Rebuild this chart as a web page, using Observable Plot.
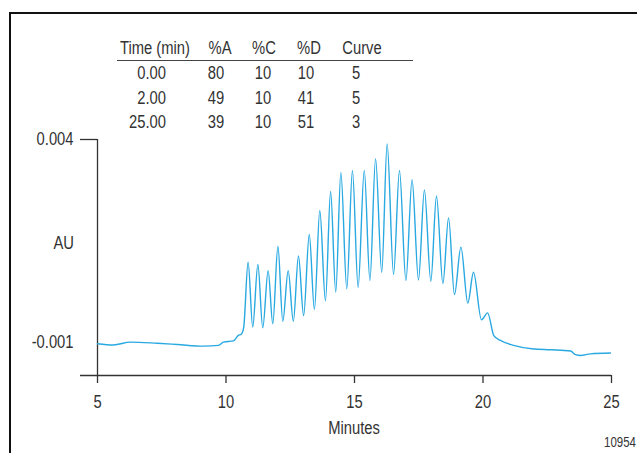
<!DOCTYPE html>
<html><head><meta charset="utf-8">
<script src="https://cdn.jsdelivr.net/npm/d3@7"></script>
<script src="https://cdn.jsdelivr.net/npm/@observablehq/plot@0.6"></script>
<style>
body{margin:0;background:#fff;}
#wrap{position:relative;width:637px;height:453px;overflow:hidden;font-family:"Liberation Sans",Arial,sans-serif;color:#333;}
#frame{position:absolute;left:9px;top:12px;width:660px;height:480px;border-left:2px solid #111;border-top:2px solid #111;z-index:2;}
.t{position:absolute;font-size:18px;line-height:20px;white-space:nowrap;}
#chart{position:absolute;left:0;top:0;}
#rule{position:absolute;left:117px;top:60px;width:296px;height:0;border-top:1.5px solid #444;}
</style></head><body><div id="wrap"><div id="frame"></div><div id="chart"></div><div id="rule"></div></div>
<script>
// chromatogram (minutes, AU)
const time = [5.00, 5.62, 6.28, 7.33, 8.11, 9.12, 9.71, 9.90, 10.29, 10.47, 10.60, 10.69,
  10.86, 11.04, 11.24, 11.43, 11.64, 11.82, 12.02, 12.21, 12.42, 12.62, 12.82, 13.02, 13.24, 13.44,
  13.65, 13.87, 14.07, 14.27, 14.47, 14.70, 14.92, 15.14, 15.38, 15.60, 15.82, 16.06, 16.27, 16.52,
  16.75, 17.00, 17.24, 17.49, 17.72, 17.97, 18.19, 18.44, 18.66, 18.89, 19.14, 19.41, 19.63, 19.94,
  20.18, 20.42, 20.68, 21.19, 21.97, 22.63, 23.41, 23.60, 23.79, 24.18, 24.96];
const au = [-0.00103, -0.00106, -0.00099, -0.00102, -0.00105, -0.00109, -0.00107, -0.00099, -0.00096, -0.00083, -0.00079, -0.00062,
  0.00098, -0.00062, 0.00092, -0.00064, 0.00077, -0.00054, 0.00137, -0.00048, 0.00077, -0.00048, 0.00113, -0.00034, 0.00166, -0.00019,
  0.00225, 0.00003, 0.00272, 0.00024, 0.00319, 0.00032, 0.00324, 0.00036, 0.00324, 0.00053, 0.00353, 0.00073, 0.00389, 0.00068,
  0.00324, 0.00053, 0.00301, 0.00054, 0.00276, 0.00051, 0.00261, 0.00045, 0.00207, 0.00018, 0.00135, -0.00003, 0.00073, -0.00044,
  -0.00027, -0.00083, -0.00095, -0.00107, -0.00116, -0.00118, -0.00121, -0.00130, -0.00132, -0.00128, -0.00126];

// gradient table
const tableHeader = ["Time (min)", "%A", "%C", "%D", "Curve"];
const tableTime = ["0.00", "2.00", "25.00"];
const tableA = ["80", "49", "39"];
const tableC = ["10", "10", "10"];
const tableD = ["10", "41", "51"];
const tableCurve = ["5", "5", "3"];

const xTicks = [5, 10, 15, 20, 25];
const yTicks = [0.004, -0.001];
const xLabel = "Minutes";
const yLabel = "AU";
const figureId = "10954";

const SX = 0.82; // condensed look
const data = time.map((t, i) => ({t, v: au[i]}));
const yMin = -0.001813, xStart = 4.338;

const plot = Plot.plot({
  width: 637, height: 453,
  marginLeft: 97, marginRight: 26, marginTop: 139, marginBottom: 78,
  style: {background: "transparent", color: "#333", fontFamily: "'Liberation Sans',Arial,sans-serif"},
  x: {domain: [5, 25]},
  y: {domain: [yMin, 0.004]},
  marks: [
    Plot.ruleY([yMin], {x1: xStart, x2: 25, stroke: "#333", strokeWidth: 1.3}),
    Plot.ruleX([5], {y1: yMin, y2: 0.004, stroke: "#333", strokeWidth: 1.3}),
    Plot.ruleY([0.004], {x1: xStart, x2: 5, stroke: "#333", strokeWidth: 1.3}),
    Plot.axisX({ticks: xTicks, tickSize: 8, tickPadding: 12, fontSize: 18, label: null, tickFormat: d => String(d), strokeWidth: 1.3}),
    Plot.axisY({ticks: yTicks, tickSize: 0, tickPadding: 24, fontSize: 18, label: null, tickFormat: d => d.toFixed(3)}),
    Plot.line(data, {x: "t", y: "v", stroke: "#29a9e1", strokeWidth: 1.4, curve: "monotone-x"})
  ]
});
document.getElementById("chart").appendChild(plot);
// condense the axis labels horizontally, keeping their anchors in place
plot.querySelectorAll("text").forEach(el => {
  const tr = el.getAttribute("transform") || "";
  el.setAttribute("transform", tr + ` scale(${SX},1)`);
  const x = el.getAttribute("x");
  if (x !== null) el.setAttribute("x", parseFloat(x) / SX);
});

const wrap = document.getElementById("wrap");
function put(text, x, y, align, size) {
  const d = document.createElement("div");
  d.className = "t";
  d.textContent = text;
  if (size) { d.style.fontSize = size + "px"; }
  d.style.left = x + "px";
  d.style.top = (y - 10) + "px";
  if (align === "right") { d.style.transformOrigin = "100% 50%"; d.style.transform = `translateX(-100%) scaleX(${SX})`; }
  else if (align === "left") { d.style.transformOrigin = "0 50%"; d.style.transform = `scaleX(${SX})`; }
  else { d.style.transformOrigin = "50% 50%"; d.style.transform = `translateX(-50%) scaleX(${SX})`; }
  wrap.appendChild(d);
}
const headX = [155, 220, 264, 309, 362];
tableHeader.forEach((h, i) => put(h, headX[i], 48, "center"));
const rowY = [73, 98, 122];
rowY.forEach((y, r) => {
  put(tableTime[r], 166, y, "right");
  put(tableA[r], 216, y, "center");
  put(tableC[r], 263, y, "center");
  put(tableD[r], 306, y, "center");
  put(tableCurve[r], 356, y, "center");
});
put(yLabel, 74, 243, "right", 18);
put(xLabel, 354, 428, "center", 18);
put(figureId, 636, 442, "right", 14);
</script></body></html>
